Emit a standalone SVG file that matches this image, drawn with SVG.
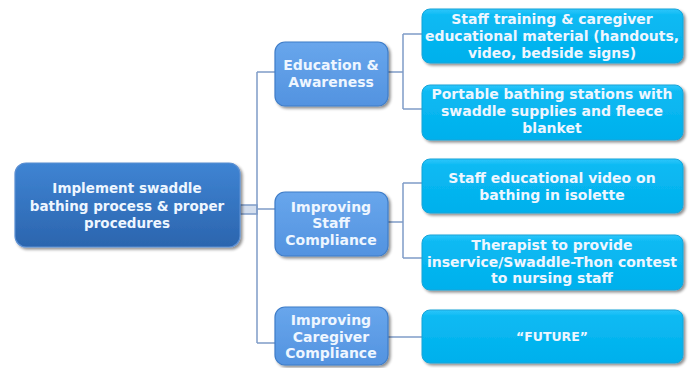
<svg xmlns="http://www.w3.org/2000/svg" width="692" height="368" viewBox="0 0 692 368">
<defs>
<linearGradient id="gRoot" x1="0" y1="0" x2="0" y2="1">
<stop offset="0" stop-color="#3f84d3"/>
<stop offset="1" stop-color="#2b65ae"/>
</linearGradient>
<linearGradient id="gMid" x1="0" y1="0" x2="0" y2="1">
<stop offset="0" stop-color="#68a6ec"/>
<stop offset="1" stop-color="#5393e0"/>
</linearGradient>
<linearGradient id="gLeaf" x1="0" y1="0" x2="0" y2="1">
<stop offset="0" stop-color="#2cc6fb"/>
<stop offset="0.12" stop-color="#0cbaf3"/>
<stop offset="1" stop-color="#00b0ec"/>
</linearGradient>
<filter id="sh" x="-10%" y="-10%" width="125%" height="130%">
<feGaussianBlur in="SourceAlpha" stdDeviation="1.5"/>
<feOffset dx="2" dy="2" result="b"/>
<feComponentTransfer><feFuncA type="linear" slope="0.45"/></feComponentTransfer>
<feMerge><feMergeNode/><feMergeNode in="SourceGraphic"/></feMerge>
</filter>
</defs>
<style>
.root{fill:url(#gRoot);stroke:#5b8fd2;stroke-width:1.2}
.mid{fill:url(#gMid);stroke:#3f7dc8;stroke-width:1.2}
.leaf{fill:url(#gLeaf);stroke:#18a4d8;stroke-width:1}
text{font-family:"DejaVu Sans","Liberation Sans",sans-serif;font-weight:bold;fill:#eef6ff;text-anchor:middle}
.t13{font-size:13.5px}
.t14{font-size:14px}
.tf{font-size:12.5px}
.c{fill:none;stroke:#7f9cc8;stroke-width:1.5}
</style>
<rect width="692" height="368" fill="#ffffff"/>
<g id="connectors">
<rect x="240" y="205" width="17" height="9" fill="#d3deee" stroke="#7f9cc8" stroke-width="1.5"/>
<path class="c" d="M257 72 V343 M257 72 H275 M257 209 H275 M257 343 H275"/>
<path class="c" d="M388 72 H403 M403 34 V109 M403 34 H422 M403 109 H422"/>
<path class="c" d="M388 222 H403 M403 183 V258 M403 183 H422 M403 258 H422"/>
<path class="c" d="M388 337 H422"/>
</g>
<g id="root">
<rect class="root" x="15" y="163" width="225" height="84" rx="11" filter="url(#sh)"/>
<text class="t13" x="127" y="193">Implement swaddle</text>
<text class="t13" x="127" y="211">bathing process &amp; proper</text>
<text class="t13" x="127" y="228">procedures</text>
</g>
<g id="education">
<rect class="mid" x="275" y="42" width="113" height="64" rx="10" filter="url(#sh)"/>
<text class="t14" x="331" y="70">Education &amp;</text>
<text class="t14" x="331" y="87">Awareness</text>
</g>
<g id="staff">
<rect class="mid" x="275" y="192" width="113" height="64" rx="10" filter="url(#sh)"/>
<text class="t14" x="331" y="212">Improving</text>
<text class="t14" x="331" y="228">Staff</text>
<text class="t14" x="331" y="245">Compliance</text>
</g>
<g id="caregiver">
<rect class="mid" x="275" y="307" width="113" height="58" rx="10" filter="url(#sh)"/>
<text class="t14" x="331" y="325">Improving</text>
<text class="t14" x="331" y="342">Caregiver</text>
<text class="t14" x="331" y="358">Compliance</text>
</g>
<g id="leaf1">
<rect class="leaf" x="422" y="9" width="261" height="54" rx="8" filter="url(#sh)"/>
<text class="t14" x="552" y="24">Staff training &amp; caregiver</text>
<text class="t14" x="552" y="41">educational material (handouts,</text>
<text class="t14" x="552" y="58">video, bedside signs)</text>
</g>
<g id="leaf2">
<rect class="leaf" x="422" y="85" width="261" height="55" rx="8" filter="url(#sh)"/>
<text class="t14" x="552" y="99">Portable bathing stations with</text>
<text class="t14" x="552" y="116">swaddle supplies and fleece</text>
<text class="t14" x="552" y="133">blanket</text>
</g>
<g id="leaf3">
<rect class="leaf" x="422" y="159" width="261" height="54" rx="8" filter="url(#sh)"/>
<text class="t14" x="552" y="183">Staff educational video on</text>
<text class="t14" x="552" y="200">bathing in isolette</text>
</g>
<g id="leaf4">
<rect class="leaf" x="422" y="235" width="261" height="55" rx="8" filter="url(#sh)"/>
<text class="t14" x="552" y="250">Therapist to provide</text>
<text class="t14" x="552" y="267">inservice/Swaddle-Thon contest</text>
<text class="t14" x="552" y="283">to nursing staff</text>
</g>
<g id="leaf5">
<rect class="leaf" x="422" y="310" width="261" height="53" rx="8" filter="url(#sh)"/>
<text class="tf" x="552" y="341">“FUTURE”</text>
</g>
</svg>
